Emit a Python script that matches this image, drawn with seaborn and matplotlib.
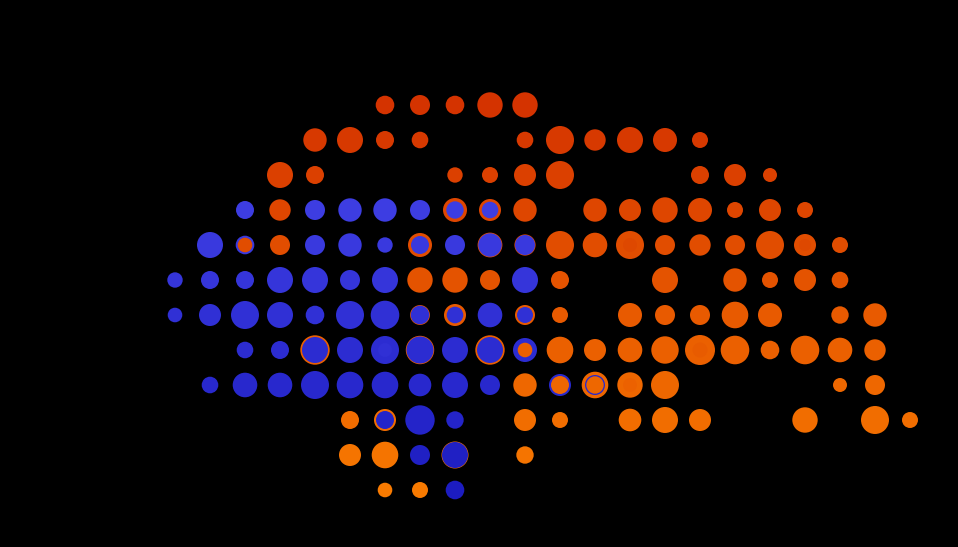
import numpy as np
import pandas as pd
import matplotlib
matplotlib.use("Agg")
import matplotlib.pyplot as plt
import seaborn as sns

# ---- data: one entry per drawn circle (drawn in this order) ----
# grid column, grid row, party ('o' orange, 'b' blue, 'O'/'B' secondary shade), value (radius units)
mark_col = [
    # row 0
    6, 7, 8, 9, 10,
    # row 1
    4, 5, 6, 7, 10, 11, 12, 13, 14, 15,
    # row 2
    3, 4, 8, 9, 10, 11, 15, 16, 17,
    # row 3
    2, 3, 4, 5, 6, 7, 8, 8, 9, 9, 10, 12, 13, 14, 15, 16, 17, 18,
    # row 4
    1, 2, 2, 3, 4, 5, 6, 7, 7, 8, 9, 9, 10, 10, 11, 12, 13, 13, 14, 15, 16, 17, 18, 18, 19,
    # row 5
    0, 1, 2, 3, 4, 5, 6, 7, 8, 9, 10, 11, 14, 16, 17, 18, 19,
    # row 6
    0, 1, 2, 3, 4, 5, 6, 7, 7, 8, 8, 9, 10, 10, 11, 13, 14, 15, 16, 17, 19, 20,
    # row 7
    2, 3, 4, 4, 5, 6, 6, 7, 7, 8, 9, 9, 10, 10, 11, 12, 13, 14, 15, 15, 16, 17, 18, 19, 20,
    # row 8
    1, 2, 3, 4, 5, 6, 7, 8, 9, 10, 11, 11, 12, 12, 12, 13, 13, 14, 19, 20,
    # row 9
    5, 6, 6, 7, 8, 10, 11, 13, 14, 15, 18, 20, 21,
    # row 10
    5, 6, 7, 8, 8, 10,
    # row 11
    6, 7, 8,
]
mark_row = (
    [0] * 5 + [1] * 10 + [2] * 9 + [3] * 18 + [4] * 25 + [5] * 17
    + [6] * 22 + [7] * 25 + [8] * 20 + [9] * 13 + [10] * 6 + [11] * 3
)
mark_party = [
    # row 0
    'o', 'o', 'o', 'o', 'o',
    # row 1
    'o', 'o', 'o', 'o', 'o', 'o', 'o', 'o', 'o', 'o',
    # row 2
    'o', 'o', 'o', 'o', 'o', 'o', 'o', 'o', 'o',
    # row 3
    'b', 'o', 'b', 'b', 'b', 'b', 'o', 'b', 'o', 'b', 'o', 'o', 'o', 'o', 'o', 'o', 'o', 'o',
    # row 4
    'b', 'b', 'o', 'o', 'b', 'b', 'b', 'o', 'b', 'b', 'o', 'b', 'o', 'b', 'o', 'o', 'o', 'O', 'o', 'o', 'o', 'o', 'o', 'O', 'o',
    # row 5
    'b', 'b', 'b', 'b', 'b', 'b', 'b', 'o', 'o', 'o', 'b', 'o', 'o', 'o', 'o', 'o', 'o',
    # row 6
    'b', 'b', 'b', 'b', 'b', 'b', 'b', 'o', 'b', 'o', 'b', 'b', 'o', 'b', 'o', 'o', 'o', 'o', 'o', 'o', 'o', 'o',
    # row 7
    'b', 'b', 'o', 'b', 'b', 'b', 'B', 'o', 'b', 'b', 'o', 'b', 'b', 'o', 'o', 'o', 'o', 'o', 'o', 'O', 'o', 'o', 'o', 'o', 'o',
    # row 8
    'b', 'b', 'b', 'b', 'b', 'b', 'b', 'b', 'b', 'o', 'b', 'o', 'o', 'b', 'o', 'o', 'O', 'o', 'o', 'o',
    # row 9
    'o', 'o', 'b', 'b', 'b', 'o', 'o', 'o', 'o', 'o', 'o', 'o', 'o',
    # row 10
    'o', 'o', 'b', 'o', 'b', 'o',
    # row 11
    'o', 'o', 'b',
]
mark_value = [
    # row 0
    9.3, 10, 9.3, 12.7, 12.7,
    # row 1
    11.7, 13, 9, 8.3, 8.3, 14, 10.7, 13, 12, 8,
    # row 2
    13, 9, 7.7, 8, 11, 14, 9, 11, 7,
    # row 3
    9, 10.7, 10, 11.7, 11.7, 10, 12, 8.7, 11, 8.3, 11.7, 11.7, 11, 12.7, 12, 8, 11, 8,
    # row 4
    13, 9.3, 7.3, 10, 10, 11.7, 7.7, 12, 9, 10, 12.4, 11.7, 10.6, 10, 14, 12.3, 14, 7, 10, 10.7, 10, 14, 11, 6, 8,
    # row 5
    7.7, 9, 9, 13, 13, 10, 13, 12.7, 12.7, 10, 13, 9, 13, 11.7, 8, 11, 8.3,
    # row 6
    7.3, 11, 14, 13, 9.3, 14, 14.3, 9.9, 9.3, 11, 8.3, 12.3, 10, 8, 8, 12, 10, 10, 13.3, 12, 8.7, 11.7,
    # row 7
    8.3, 9, 14.7, 13, 13, 14, 7, 14.2, 13.5, 13, 14.7, 13, 12, 7.3, 13.3, 11, 12.3, 13.7, 15, 7.5, 14.3, 9.3, 14.3, 12.3, 10.7,
    # row 8
    8.3, 12.3, 12.3, 14, 13.3, 13.3, 11.3, 13, 10, 11.7, 11, 9, 13.3, 10, 8.7, 12.7, 7, 14, 7, 10,
    # row 9
    9, 11, 9, 14.7, 8.7, 11, 8, 11.3, 13, 11, 12.7, 14, 8,
    # row 10
    11, 13.3, 10, 13.5, 13, 8.7,
    # row 11
    7.3, 8, 9.3,
]

# ---- figure geometry (pixels) ----
W, H, DPI = 958, 547, 100
X0, Y0, STEP = 175, 105, 35

ORANGE_TOP = np.array([212, 51, 0]) / 255
ORANGE_BOT = np.array([248, 122, 0]) / 255
BLUE_TOP = np.array([73, 73, 239]) / 255
BLUE_BOT = np.array([28, 28, 192]) / 255
N_ROWS = 12


def row_color(party, row):
    if party in ('O', 'B'):
        row = max(row - 0.8, 0)
    t = row / (N_ROWS - 1)
    if party.lower() == 'o':
        c = ORANGE_TOP + (ORANGE_BOT - ORANGE_TOP) * t
    else:
        c = BLUE_TOP + (BLUE_BOT - BLUE_TOP) * t
    return matplotlib.colors.to_hex(np.clip(c, 0, 1))


df = pd.DataFrame({
    'col': mark_col,
    'row': mark_row,
    'party': mark_party,
    'value': mark_value,
})
df['colorkey'] = [row_color(p, r) for p, r in zip(df['party'], df['row'])]
palette = {k: k for k in df['colorkey'].unique()}

fig = plt.figure(figsize=(W / DPI, H / DPI), dpi=DPI, facecolor='black')
ax = fig.add_axes([0, 0, 1, 1])
ax.set_facecolor('black')

# marker area in points^2 from radius in pixels
pt_per_px = 72 / DPI
sizes = (2 * df['value'].to_numpy() * pt_per_px) ** 2

sns.scatterplot(data=df, x='col', y='row', hue='colorkey', palette=palette,
                s=sizes, linewidth=0, legend=False, ax=ax, zorder=3)

ax.set_xlim(-X0 / STEP, (W - X0) / STEP)
ax.set_ylim((H - Y0) / STEP, -Y0 / STEP)
ax.axis('off')

fig.savefig('out.png', dpi=DPI, facecolor='black')
